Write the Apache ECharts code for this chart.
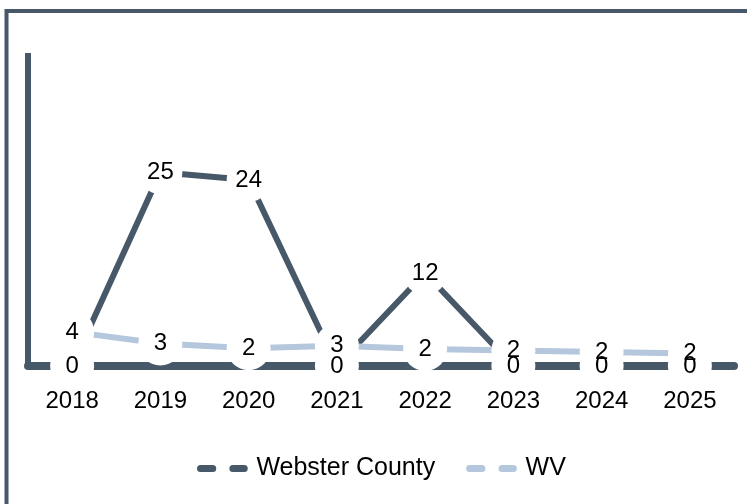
<!DOCTYPE html>
<html>
<head>
<meta charset="utf-8">
<script src="https://cdn.jsdelivr.net/npm/echarts@6/dist/echarts.min.js"></script>
<style>
html,body{margin:0;padding:0;background:#fff;}
#chart{width:747px;height:504px;}
</style>
</head>
<body>
<div id="chart"></div>
<script>
const years = ['2018','2019','2020','2021','2022','2023','2024','2025'];
const webster = [0, 25, 24, 0, 12, 0, 0, 0];
const wv = [4.4, 2.9, 2.3, 2.6, 2.2, 2.0, 1.8, 1.6];
const seriesNames = ['Webster County', 'WV'];

const DARK = '#475869';
const LIGHT = '#B4C7DC';
const FONT = 'Arial, "Liberation Sans", sans-serif';
const dashIcon = 'path://M4,0H18A4,4 0 0 1 18,8H4A4,4 0 0 1 4,0Z M41,0H54A4,4 0 0 1 54,8H41A4,4 0 0 1 41,0Z';

const chart = echarts.init(document.getElementById('chart'), null, {renderer: 'canvas'});

function circleSeries(data, name) {
  return {
    type: 'scatter', name: name, data: data, z: 3, silent: true,
    symbol: 'circle', symbolSize: 44,
    itemStyle: {color: '#ffffff', opacity: 1},
    emphasis: {disabled: true},
    label: {show: false},
    tooltip: {show: false}
  };
}
function labelSeries(data, name) {
  return {
    type: 'scatter', name: name, data: data, z: 5, silent: true,
    symbol: 'circle', symbolSize: 1,
    itemStyle: {color: 'rgba(0,0,0,0)', opacity: 1},
    emphasis: {disabled: true},
    label: {
      show: true, position: 'inside', color: '#000',
      textBorderWidth: 0,
      fontSize: 24, fontFamily: FONT,
      formatter: p => String(Math.round(p.value))
    }
  };
}

chart.setOption({
  animation: false,
  backgroundColor: '#ffffff',
  graphic: [{
    type: 'rect', z: 0, silent: true,
    shape: {x: 6.5, y: 11, width: 900, height: 700},
    style: {fill: 'none', stroke: DARK, lineWidth: 4}
  }],
  grid: {left: 28, right: 13, top: 56, bottom: 138, containLabel: false},
  xAxis: {
    type: 'category', data: years, boundaryGap: true,
    axisLine: {show: true, lineStyle: {color: DARK, width: 8}},
    axisTick: {show: false},
    axisLabel: {color: '#000', fontSize: 24, fontFamily: FONT, margin: 23}
  },
  yAxis: {
    type: 'value', min: 0, max: 40,
    axisLine: {show: true, lineStyle: {color: DARK, width: 6, cap: 'square'}},
    axisTick: {show: false},
    axisLabel: {show: false},
    splitLine: {show: false}
  },
  legend: {
    left: 192, top: 451,
    itemWidth: 58, itemHeight: 7, itemGap: 31,
    textStyle: {color: '#000', fontSize: 25, fontFamily: FONT},
    data: [
      {name: seriesNames[0], icon: dashIcon},
      {name: seriesNames[1], icon: dashIcon}
    ]
  },
  series: [
    {type: 'line', name: seriesNames[0], data: webster, z: 2, color: DARK,
     symbol: 'none', lineStyle: {color: DARK, width: 6}},
    {type: 'line', name: seriesNames[1], data: wv, z: 2, color: LIGHT,
     symbol: 'none', lineStyle: {color: LIGHT, width: 6}},
    circleSeries(webster, 'c1'),
    circleSeries(wv, 'c2'),
    labelSeries(webster, 'l1'),
    labelSeries(wv, 'l2')
  ]
});
</script>
</body>
</html>
